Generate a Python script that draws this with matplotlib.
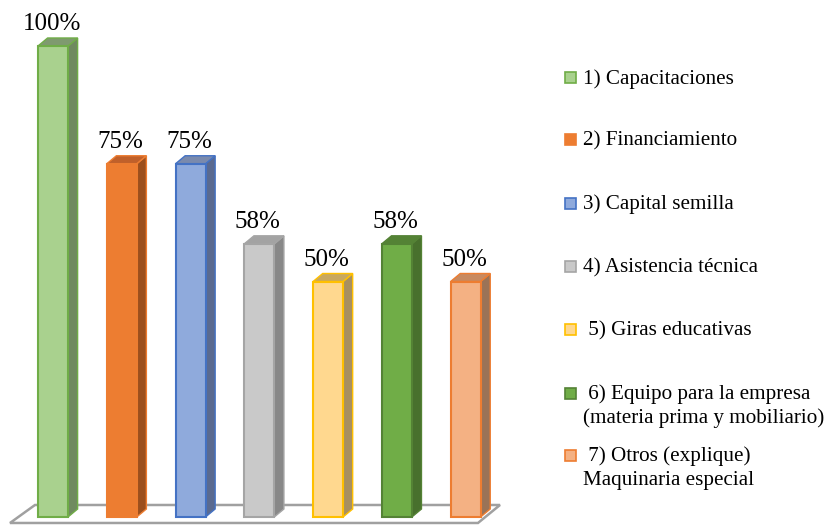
import matplotlib
matplotlib.use("Agg")
import matplotlib.pyplot as plt
from matplotlib.patches import Polygon, Rectangle
from matplotlib import font_manager
from matplotlib.font_manager import FontProperties

# locate a Times-like serif font file explicitly
serif_path = None
for pref in ["Liberation Serif", "Times New Roman", "Tinos", "DejaVu Serif"]:
    for f in font_manager.fontManager.ttflist:
        if f.name == pref and f.style == "normal" and f.weight in (400, "normal", "regular"):
            serif_path = f.fname
            break
    if serif_path:
        break
if serif_path:
    font_manager.fontManager.addfont(serif_path)
    fam = FontProperties(fname=serif_path).get_name()
    plt.rcParams['font.family'] = [fam, 'DejaVu Serif']
else:
    plt.rcParams['font.family'] = 'serif'


def fp(size):
    if serif_path:
        return FontProperties(fname=serif_path, size=size)
    return FontProperties(family='serif', size=size)


categories = ["1) Capacitaciones", "2) Financiamiento", "3) Capital semilla",
              "4) Asistencia técnica", " 5) Giras educativas",
              " 6) Equipo para la empresa\n(materia prima y mobiliario)",
              " 7) Otros (explique)\nMaquinaria especial"]
values = [100, 75, 75, 58, 50, 58, 50]
labels = ["100%", "75%", "75%", "58%", "50%", "58%", "50%"]

face = ["#a9d18e", "#ed7d31", "#8faadc", "#c9c9c9", "#ffd88f", "#70ad47", "#f4b183"]
edge = ["#70ad47", "#ed7d31", "#4472c4", "#a5a5a5", "#ffc000", "#548235", "#ed7d31"]
side = ["#6f8a5f", "#9c4f1d", "#5a6a90", "#888888", "#a89060", "#48702d", "#9a7357"]
top = ["#7f9a6f", "#c0602a", "#7a8aad", "#a3a3a3", "#c8a860", "#548235", "#c88a60"]

W, H = 833, 525
fig = plt.figure(figsize=(W / 100, H / 100), dpi=100)
ax = fig.add_axes([18.6 / W, 8 / H, (500 - 18.6) / W, 471 / H])
ax.set_xlim(-0.5, 6.5)
ax.set_ylim(0, 100)
ax.axis("off")

bw = 0.436
dx = 0.14
dy = 1.7
xs = list(range(len(values)))

floor = Polygon([(-0.625, -1.27), (-0.262, 2.55), (6.5, 2.55), (6.18, -1.27)],
                closed=True, facecolor="white", edgecolor="#a0a0a0", lw=1.8,
                clip_on=False, zorder=1)
ax.add_patch(floor)

bars = ax.bar(xs, values, width=bw, color=face, edgecolor=edge, linewidth=1.5,
              zorder=3, clip_on=False)
for i, (x, v) in enumerate(zip(xs, values)):
    r = x + bw / 2
    l = x - bw / 2
    sp = Polygon([(r, 0), (r + dx, dy), (r + dx, v + dy), (r, v)], closed=True,
                 facecolor=side[i], edgecolor=edge[i], lw=1.0, zorder=2, clip_on=False)
    tp = Polygon([(l, v), (l + dx, v + dy), (r + dx, v + dy), (r, v)], closed=True,
                 facecolor=top[i], edgecolor=edge[i], lw=1.0, zorder=2, clip_on=False)
    ax.add_patch(sp)
    ax.add_patch(tp)
    ax.annotate(labels[i], (x, v), xytext=(-1, 11.5), textcoords="offset points",
                ha="center", va="baseline", fontproperties=fp(18), color="black",
                annotation_clip=False)

rows = [77, 139, 203, 266, 329, 393, 455]
for i, lab in enumerate(categories):
    yc = rows[i]
    fig.patches.append(Rectangle((565 / W, 1 - (yc + 5.5) / H), 11 / W, 11 / H,
                                 transform=fig.transFigure, facecolor=face[i],
                                 edgecolor=edge[i], lw=1.2))
    for j, line in enumerate(lab.split("\n")):
        fig.text(583 / W, 1 - (yc + 6.5 + 23 * j) / H, line, ha="left",
                 va="baseline", fontproperties=fp(15.2), color="black")

fig.savefig("out.png", dpi=100)
